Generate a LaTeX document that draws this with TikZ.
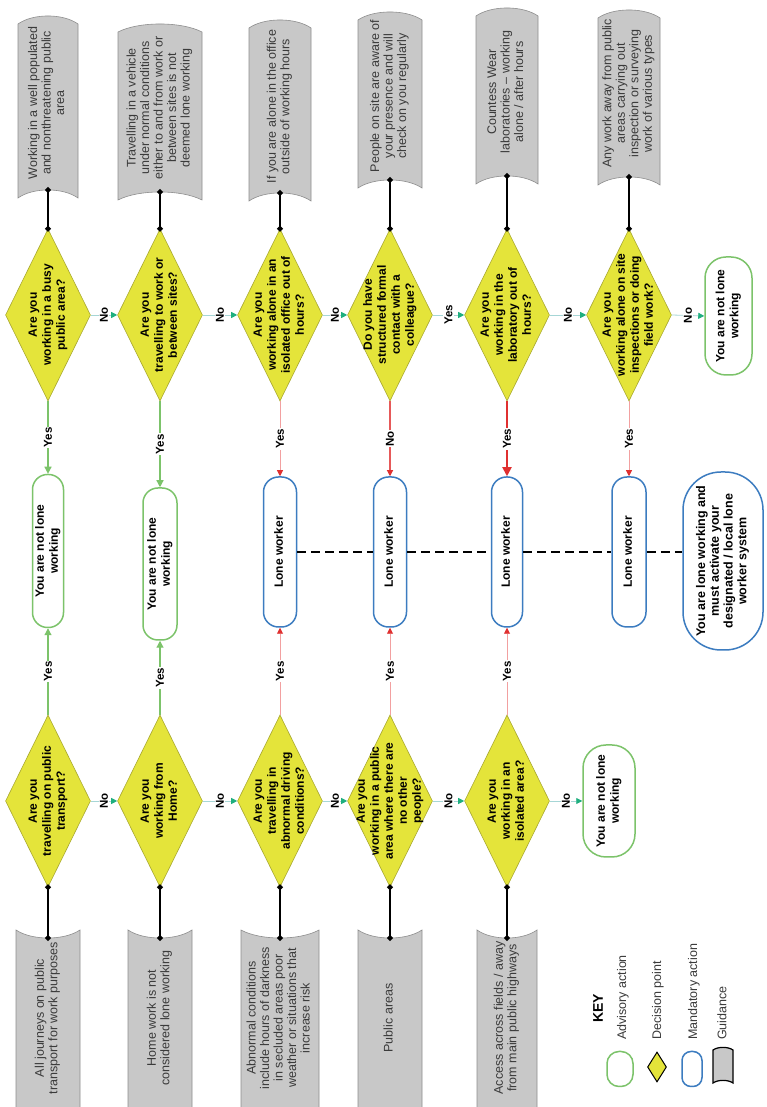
\documentclass[tikz,border=0pt]{standalone}
\usepackage{fontspec}
\setmainfont{Liberation Sans}
\usetikzlibrary{shapes.geometric,arrows.meta}
\definecolor{dfill}{HTML}{E4E43A}
\definecolor{ddraw}{HTML}{A8A830}
\definecolor{gfill}{HTML}{C8C8C8}
\definecolor{gdraw}{HTML}{8E8E8E}
\definecolor{gtextc}{HTML}{3A3A3A}
\definecolor{advc}{HTML}{7CC36A}
\definecolor{mandc}{HTML}{3C7CC0}
\definecolor{noline}{HTML}{A6D6D6}
\definecolor{nohead}{HTML}{1FAF7F}
\definecolor{pinkl}{HTML}{F2A0A0}
\definecolor{redh}{HTML}{E03030}
\newcommand\rt[1]{\rotatebox{90}{\begin{tabular}{@{}c@{}}#1\end{tabular}}}
\begin{document}
\begin{tikzpicture}[x=1pt,y=1pt,
  diam/.style={diamond, fill=dfill, draw=ddraw, line width=0.6pt, minimum width=85pt, minimum height=172pt, inner sep=0pt},
  dtxt/.style={font=\fontsize{12}{14}\selectfont\bfseries, inner sep=0pt},
  gtxt/.style={font=\fontsize{12.5}{13.5}\selectfont, text=gtextc, inner sep=0pt},
  guide/.style={fill=gfill, draw=gdraw, line width=0.6pt},
  adv/.style={draw=advc, line width=1.5pt, fill=white, rounded corners=15pt, inner sep=0pt, font=\fontsize{12}{14}\selectfont\bfseries},
  mand/.style={draw=mandc, line width=1.5pt, fill=white, rounded corners=15pt, inner sep=0pt, font=\fontsize{12}{14}\selectfont\bfseries},
  lbl/.style={fill=white, inner sep=1pt, font=\fontsize{11.5}{12}\selectfont\bfseries, rotate=90},
  noarr/.style={draw=noline, line width=0.8pt, -{Triangle[length=6pt,width=6pt,color=nohead]}},
  yesg/.style={draw=advc, line width=1.2pt, -{Triangle[length=7pt,width=7pt]}},
  redthin/.style={draw=pinkl, line width=0.9pt, -{Triangle[length=6pt,width=6pt,color=redh]}},
  redmid/.style={draw=redh!80, line width=1.1pt, -{Triangle[length=6pt,width=6pt,color=redh]}},
  redthick/.style={draw=redh, line width=1.8pt, -{Triangle[length=9pt,width=9pt]}},
  conn/.style={line width=1.8pt, {Circle[length=5.5pt]}-{Circle[length=5.5pt]}, shorten <=-2.75pt, shorten >=-2.75pt},
  lonedash/.style={line width=2.2pt, dash pattern=on 9pt off 5pt},
  keytxt/.style={font=\fontsize{12.5}{14}\selectfont, text=gtextc, inner sep=0pt}
]
\newcommand\Dia[4]{\node[diam] (#1) at (#2,#3) {};
  \node[dtxt] (#1x) at (#1) {\rt{#4}};}
\newcommand\GTop[6]{%
  \draw[guide] ({#2-#3},{#5-8}) -- ({#2-#3},{#4-8}) .. controls ({#2-#3/2},{#4+2.7}) and ({#2+#3/2},{#4+2.7}) .. ({#2+#3},{#4-8}) -- ({#2+#3},{#5-8}) .. controls ({#2+#3/2},{#5+2.7}) and ({#2-#3/2},{#5+2.7}) .. cycle;
  \coordinate (#1c) at (#2,#5);
  \node[gtxt] (#1) at (#2,{(#4+#5)/2}) {\rt{#6}};}
\newcommand\GBot[4]{%
  \draw[guide] ({#2-#3},-10) -- ({#2-#3},177) .. controls ({#2-#3/2},166.3) and ({#2+#3/2},166.3) .. ({#2+#3},177) -- ({#2+#3},-10) -- cycle;
  \coordinate (#1c) at (#2,169);
  \node[gtxt] (#1) at (#2,89) {\rt{#4}};}

\fill[white] (0,0) rectangle (767,1107);
\useasboundingbox (0,0) rectangle (767,1107);
\clip (0,0) rectangle (767,1107);

% ---- top guidance
\GTop{ga}{48}{30}{1091}{917}{Working in a well populated\\and nonthreatening public\\area}
\GTop{gb}{160}{42}{1083}{915}{Travelling in a vehicle\\under normal conditions\\either to and from work or\\between sites is not\\deemed lone working}
\GTop{gc}{280}{31}{1087}{914}{If you are alone in the office\\outside of working hours}
\GTop{gd}{390}{32}{1095}{927}{People on site are aware of\\your presence and will\\check on you regularly}
\GTop{ge}{507}{31}{1099}{931}{Countess Wear\\laboratories -- working\\alone / after hours}
\GTop{gf}{629}{31}{1097}{930}{Any work away from public\\areas carrying out\\inspection or surveying\\work of various types}

% ---- bottom guidance
\GBot{ha}{48}{32}{All journeys on public\\transport for work purposes}
\GBot{hb}{160}{32}{Home work is not\\considered lone working}
\GBot{hc}{280}{39}{Abnormal conditions\\include hours of darkness\\in secluded areas poor\\weather or situations that\\increase risk}
\GBot{hd}{390}{32}{Public areas}
\GBot{he}{507}{30}{Access across fields / away\\from main public highways}

% ---- top decisions
\Dia{t1}{48}{792}{Are you\\working in a busy\\public area?}
\Dia{t2}{160}{792}{Are you\\travelling to work or\\between sites?}
\Dia{t3}{280}{792}{Are you\\working alone in an\\isolated office out of\\hours?}
\Dia{t4}{390}{792}{Do you have\\structured formal\\contact with a\\colleague?}
\Dia{t5}{507}{792}{Are you\\working in the\\laboratory out of\\hours?}
\Dia{t6}{629}{792}{Are you\\working alone on site\\inspections or doing\\field work?}

% ---- bottom decisions
\Dia{b1}{48}{306}{Are you\\travelling on public\\transport?}
\Dia{b2}{160}{306}{Are you\\working from\\Home?}
\Dia{b3}{280}{306}{Are you\\travelling in\\abnormal driving\\conditions?}
\Dia{b4}{390}{306}{Are you\\working in a public\\area where there are\\no other\\people?}
\Dia{b5}{507}{306}{Are you\\working in an\\isolated area?}

% ---- outcome boxes
\node[adv, minimum width=31pt, minimum height=153pt] (g1) at (48,556) {\rt{You are not lone\\working}};
\node[adv, minimum width=34pt, minimum height=152pt] (g2) at (160,543) {\rt{You are not lone\\working}};
\node[mand, minimum width=33pt, minimum height=150pt] (l3) at (280,555) {\rt{Lone worker}};
\node[mand, minimum width=33pt, minimum height=150pt] (l4) at (390,555) {\rt{Lone worker}};
\node[mand, minimum width=31pt, minimum height=150pt] (l5) at (507,555) {\rt{Lone worker}};
\node[mand, minimum width=34pt, minimum height=150pt] (l6) at (629,555) {\rt{Lone worker}};
\node[mand, minimum width=80pt, minimum height=178pt, rounded corners=38pt, font=\fontsize{12.5}{13.7}\selectfont\bfseries] (fin) at (723,546) {\rt{You are lone working and\\must activate your\\designated / local lone\\worker system}};
\node[adv, minimum width=47pt, minimum height=118pt, rounded corners=21pt] (n1) at (728.5,791) {\rt{You are not lone\\working}};
\node[adv, minimum width=52pt, minimum height=112pt, rounded corners=23pt] (n2) at (609,306) {\rt{You are not lone\\working}};

% ---- guidance connectors
\draw[conn] (gac) -- (t1.north);
\draw[conn] (gbc) -- (t2.north);
\draw[conn] (gcc) -- (t3.north);
\draw[conn] (gdc) -- (t4.north);
\draw[conn] (gec) -- (t5.north);
\draw[conn] (gfc) -- (t6.north);
\draw[conn] (b1.south) -- (hac);
\draw[conn] (b2.south) -- (hbc);
\draw[conn] (b3.south) -- (hcc);
\draw[conn] (b4.south) -- (hdc);
\draw[conn] (b5.south) -- (hec);

% ---- horizontal flow
\draw[noarr] (t1.east) -- node[lbl]{No} (t2.west);
\draw[noarr] (t2.east) -- node[lbl]{No} (t3.west);
\draw[noarr] (t3.east) -- node[lbl]{No} (t4.west);
\draw[noarr] (t4.east) -- node[lbl]{Yes} (t5.west);
\draw[noarr] (t5.east) -- node[lbl]{No} (t6.west);
\draw[noarr] (t6.east) -- node[lbl]{No} (n1.west);
\draw[noarr] (b1.east) -- node[lbl]{No} (b2.west);
\draw[noarr] (b2.east) -- node[lbl]{No} (b3.west);
\draw[noarr] (b3.east) -- node[lbl]{No} (b4.west);
\draw[noarr] (b4.east) -- node[lbl]{No} (b5.west);
\draw[noarr] (b5.east) -- node[lbl]{No} (n2.west);

% ---- vertical flow
\draw[yesg] (t1.south) -- node[lbl]{Yes} (g1.north);
\draw[yesg] (b1.north) -- node[lbl]{Yes} (g1.south);
\draw[yesg] (t2.south) -- node[lbl]{Yes} (g2.north);
\draw[yesg] (b2.north) -- node[lbl]{Yes} (g2.south);
\draw[redthin] (t3.south) -- node[lbl]{Yes} (l3.north);
\draw[redthin] (b3.north) -- node[lbl]{Yes} (l3.south);
\draw[redmid] (t4.south) -- node[lbl]{No} (l4.north);
\draw[redthin] (b4.north) -- node[lbl]{Yes} (l4.south);
\draw[redthick] (t5.south) -- node[lbl]{Yes} (l5.north);
\draw[redthin] (b5.north) -- node[lbl]{Yes} (l5.south);
\draw[redthin] (t6.south) -- node[lbl]{Yes} (l6.north);

% ---- dashed link
\draw[lonedash] (l3.east) -- (l4.west);
\draw[lonedash] (l4.east) -- (l5.west);
\draw[lonedash] (l5.east) -- (l6.west);
\draw[lonedash] (l6.east) -- (l6.east -| fin.west);

% ---- key
\node[font=\fontsize{14}{16}\selectfont\bfseries, rotate=90, anchor=west, inner sep=0pt] (key) at (598,84) {KEY};
\node[draw=advc, line width=1.5pt, rounded corners=12pt, minimum width=26pt, minimum height=35pt, inner sep=0pt] (k1) at (620,38) {};
\node[diamond, fill=dfill, draw=black, line width=1pt, minimum width=19pt, minimum height=30pt, inner sep=0pt] (k2) at (657,40) {};
\node[draw=mandc, line width=1.5pt, rounded corners=9pt, minimum width=20pt, minimum height=35pt, inner sep=0pt] (k3) at (692,38) {};
\draw[fill=gfill, draw=black, line width=1.2pt] (713,24) -- (713,57) .. controls (718,60.5) and (728,60.5) .. (733,57) -- (733,24) .. controls (728,27.5) and (718,27.5) .. cycle;
\node[keytxt, rotate=90, anchor=west] (kl1) at (623,67) {Advisory action};
\node[keytxt, rotate=90, anchor=west] (kl2) at (658,67) {Decision point};
\node[keytxt, rotate=90, anchor=west] (kl3) at (694,67) {Mandatory action};
\node[keytxt, rotate=90, anchor=west] (kl4) at (722,67) {Guidance};
\end{tikzpicture}
\end{document}
